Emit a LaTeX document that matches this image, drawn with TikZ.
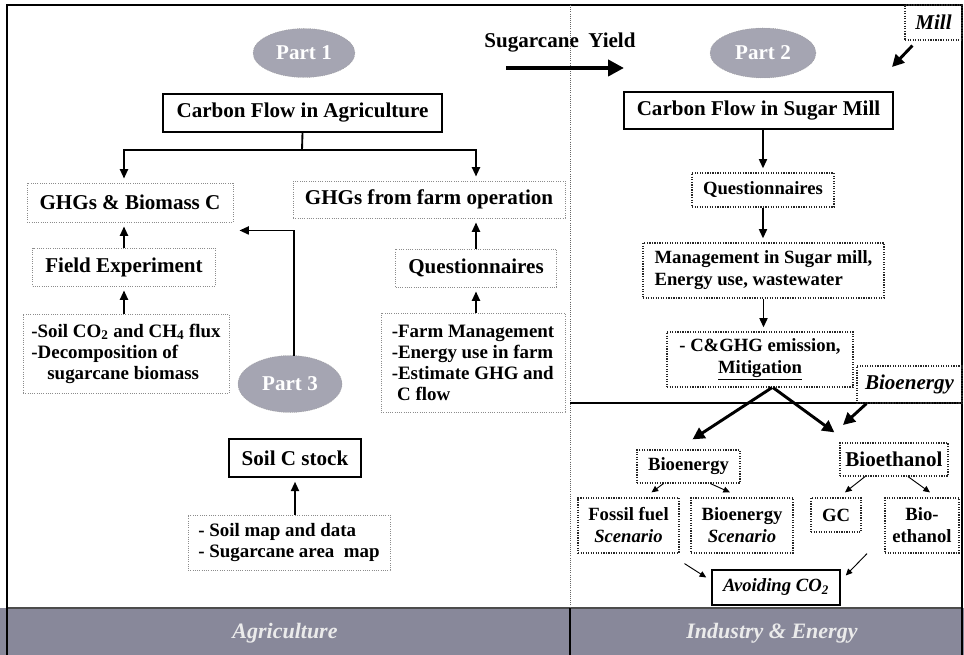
\documentclass[tikz,border=0pt]{standalone}
\usepackage{fontspec}
\setmainfont{Liberation Serif}
\usetikzlibrary{arrows.meta,calc,shapes.geometric}
\def\px{0.75pt}
\definecolor{bannercol}{RGB}{136,136,154}
\definecolor{ellfill}{RGB}{165,165,178}
\newcommand\fbig{\fontsize{15.8}{18}\selectfont\bfseries}
\newcommand\fmid{\fontsize{14}{16.5}\selectfont\bfseries}
\newcommand\fbul{\fontsize{14.2}{15.8}\selectfont\bfseries}
\begin{document}
\begin{tikzpicture}[x=0.75pt,y=-0.75pt,
  wh/.style 2 args={minimum width=#1*\px, minimum height=#2*\px, inner sep=0pt},
  solidbox/.style={draw=black, line width=1.1pt},
  lightdot/.style={draw=black!45, densely dotted, line width=0.7pt},
  darkdot/.style={draw=black!85, densely dotted, line width=0.9pt},
  part/.style={ellipse, fill=ellfill, draw=black!40, densely dotted, text=white, font=\fbig, inner sep=0pt},
  arr/.style={-{Triangle[length=7pt,width=6pt]}, line width=1.4pt, shorten >=3pt},
  bigarr/.style={-{Triangle[length=9pt,width=9pt]}, line width=2.2pt},
  yarr/.style={-{Triangle[length=12pt,width=12pt]}, line width=3.3pt},
  smallarr/.style={-{Triangle[length=5pt,width=4.5pt]}, line width=0.7pt},
  bantext/.style={font=\fontsize{16.5}{20}\selectfont\bfseries\itshape, text=white!92!black},
]
\useasboundingbox (0,0) rectangle (964,655);
% banner and frame
\fill[bannercol] (0,608) rectangle (964,655);
\draw[black!70, line width=0.8pt] (7,608) -- (962,608);
\draw[line width=1.2pt] (7,655) -- (7,5) -- (962,5) -- (962,655);
\draw[black!60, densely dotted, line width=0.6pt] (570,5) -- (570,608);
\draw[line width=1pt] (570,608) -- (570,655);
\draw[line width=1pt] (570,403) -- (962,403);

% ellipses
\node[part, wh={102}{49}] (p1) at (304,53) {Part 1};
\node[part, wh={106}{50}] (p2) at (763,53) {Part 2};
\node[part, wh={104}{57}] (p3) at (290,384) {Part 3};

% left side
\node[solidbox, wh={279}{38}, font=\fbig] (cfa) at (302.5,113) {Carbon Flow in Agriculture};
\node[lightdot, wh={206}{39}, font=\fbig] (ghgb) at (130,202.5) {GHGs \& Biomass C};
\node[lightdot, wh={272}{37}, font=\fbig] (ghgf) at (429,199.5) {GHGs from farm operation};
\node[lightdot, wh={183}{38}, font=\fbig] (fe) at (124,267) {Field Experiment};
\node[lightdot, wh={206}{79}, font=\fbul, align=left] (lb) at (126,353.5)
  {-Soil CO\textsubscript{2} and CH\textsubscript{4} flux\\-Decomposition of\\\hspace*{12pt}sugarcane biomass};
\node[lightdot, wh={161}{38}, font=\fbig] (ql) at (476,268) {Questionnaires};
\node[lightdot, wh={184}{99}, font=\fbul, align=left] (fb) at (473,362.5)
  {-Farm Management\\-Energy use in farm\\-Estimate GHG and\\\hspace*{4pt}C flow};
\node[solidbox, wh={132}{38}, font=\fbig] (soil) at (295,458) {Soil C stock};
\node[lightdot, wh={202}{55}, font=\fbul, align=left] (sb) at (289,542.5)
  {- Soil map and data\\- Sugarcane area\ \ map};

% sugarcane yield
\node[font=\fbig] (sy) at (560,43) {Sugarcane\hspace{0.45em}Yield};
\coordinate (sy1) at (506,68);
\coordinate (sy2) at (624,68);
\draw[yarr] (sy1) -- (sy2);

% right side
\node[darkdot, wh={57}{35}, font=\fbig\itshape] (mill) at (933.5,22.5) {Mill};
\node[solidbox, wh={269}{37}, font=\fbig] (cfs) at (758.5,110.5) {Carbon Flow in Sugar Mill};
\node[darkdot, wh={142}{34}, font=\fmid] (qr) at (763,190) {Questionnaires};
\node[darkdot, wh={241}{55}, font=\fmid, align=left] (mg) at (763.5,270.5)
  {Management in Sugar mill,\\Energy use, wastewater};
\node[darkdot, wh={186}{55}, font=\fmid, align=center] (cg) at (760,359.5)
  {- C\&GHG emission,\\\underline{Mitigation}};
\node[darkdot, wh={105}{37}, font=\fbig\itshape] (bioit) at (909.5,384.5) {Bioenergy};
\node[darkdot, wh={103}{33}, font=\fmid] (be) at (688.5,466.5) {Bioenergy};
\node[darkdot, wh={108}{33}, font=\fbig] (bt) at (894,459.5) {Bioethanol};
\node[darkdot, wh={101}{55}, font=\fmid, align=center] (ff) at (628.5,525.5) {Fossil fuel\\\textit{Scenario}};
\node[darkdot, wh={102}{55}, font=\fmid, align=center] (bs) at (742,525.5) {Bioenergy\\\textit{Scenario}};
\node[darkdot, wh={50}{34}, font=\fmid] (gc) at (836,515) {GC};
\node[darkdot, wh={74}{55}, font=\fmid, align=center] (bioe) at (922,525.5) {Bio-\\ethanol};
\node[solidbox, wh={128}{35}, font=\fmid\itshape] (av) at (776,587.5) {Avoiding CO\textsubscript{2}};

% banner texts
\node[bantext] (agri) at (285,633) {Agriculture};
\node[bantext] (ind) at (772,633) {Industry \& Energy};

% left connectors
\coordinate (split) at (302,150);
\draw[line width=1.4pt] (cfa.south) -- (split);
\draw[arr] (split) -| (ghgb.north -| fe.north);
\draw[arr] (split) -| (ghgf.north -| ql.north);
\draw[arr] (fe.north) -- (fe.north |- ghgb.south);
\draw[arr] (lb.north -| fe.south) -- (fe.south);
\draw[arr] (ql.north) -- (ql.north |- ghgf.south);
\draw[arr] (fb.north -| ql.south) -- (ql.south);
\draw[arr] (sb.north -| soil.south) -- (soil.south);
\draw[arr, shorten >=0pt] ($(p3.north)+(4,1)$) |- ($(ghgb.south east)+(6,8)$);

% right connectors
\draw[arr] (qr.north |- cfs.south) -- (qr.north);
\draw[arr] (qr.south) -- (qr.south |- mg.north);
\draw[arr] (mg.south) -- (mg.south |- cg.north);
\draw[bigarr] ($(cg.south)+(12,0)$) -- ($(be.north)+(4,-10)$);
\draw[bigarr] ($(cg.south)+(13,0)$) -- ($(bt.north west)+(-5,-10)$);
\coordinate (millend) at (892,67);
\draw[bigarr] ($(mill.south west)+(8,5)$) -- (millend);
\coordinate (bioend) at (843,425);
\draw[bigarr] ($(bioit.south west)+(10,0)$) -- (bioend);
\draw[smallarr] ($(be.south)+(-25,0)$) -- ($(ff.north)+(23,-5)$);
\draw[smallarr] ($(be.south)+(22,0)$) -- ($(bs.north)+(-12,-5)$);
\draw[smallarr] ($(bt.south)+(-29,0)$) -- ($(gc.north)+(9,-5)$);
\draw[smallarr] ($(bt.south)+(14,0)$) -- ($(bioe.north)+(8,-5)$);
\draw[smallarr] ($(ff.south)+(56,10)$) -- ($(av.west)+(-5,-10)$);
\draw[smallarr] ($(gc.south)+(31,21)$) -- ($(av.east)+(5,-12)$);
\end{tikzpicture}
\end{document}
